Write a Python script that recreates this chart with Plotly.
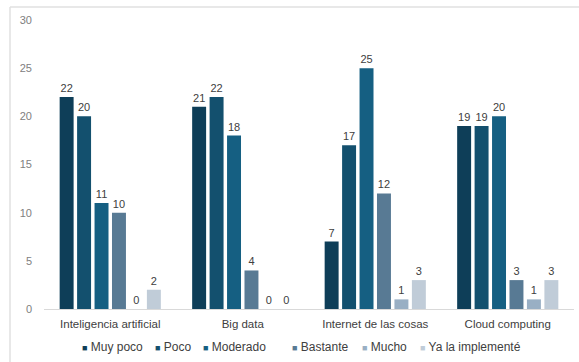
import plotly.graph_objects as go

categories = ["Inteligencia artificial", "Big data", "Internet de las cosas", "Cloud computing"]
series_names = ["Muy poco", "Poco", "Moderado", "Bastante", "Mucho", "Ya la implementé"]
muy_poco = [22, 21, 7, 19]
poco = [20, 22, 17, 19]
moderado = [11, 18, 25, 20]
bastante = [10, 4, 12, 3]
mucho = [0, 0, 1, 1]
ya_implemente = [2, 0, 3, 3]
series_values = [muy_poco, poco, moderado, bastante, mucho, ya_implemente]
colors = ["#0e3e58", "#13506e", "#155f82", "#587a94", "#99afc4", "#c0ccd8"]
y_ticks = [0, 5, 10, 15, 20, 25, 30]
legend_x_px = [80, 153, 201, 290, 360, 418]

FONT = "Liberation Sans, Arial"
W, H = 579, 362
ML, MR, MT, MB = 44, 5, 20, 53
PW, PH = W - ML - MR, H - MT - MB

fig = go.Figure()
for name, vals, col in zip(series_names, series_values, colors):
    fig.add_trace(go.Bar(
        x=categories, y=vals, name=name,
        marker=dict(color=col, line=dict(width=0)),
        text=[str(v) for v in vals], textposition="outside",
        textfont=dict(size=11, color="#404040", family=FONT),
        outsidetextfont=dict(size=11, color="#404040", family=FONT),
        cliponaxis=False, showlegend=False,
    ))

annotations = []
for name, col, px in zip(series_names, colors, legend_x_px):
    annotations.append(dict(
        xref="paper", yref="paper",
        x=(px - ML) / PW, y=(MT + PH - 347) / PH,
        xanchor="left", yanchor="middle", showarrow=False,
        text=f"<span style='color:{col};font-size:9px'>■</span> {name}",
        font=dict(size=12, color="#404040", family=FONT),
    ))

fig.update_layout(
    width=W, height=H,
    margin=dict(l=ML, r=MR, t=MT, b=MB, autoexpand=False),
    paper_bgcolor="white", plot_bgcolor="white",
    barmode="group", bargap=0.21, bargroupgap=0.2,
    font=dict(family=FONT, size=11, color="#404040"),
    showlegend=False,
    annotations=annotations,
    xaxis=dict(showline=True, linecolor="#d9d9d9", linewidth=1, ticks="",
               tickfont=dict(size=11.5, color="#404040"), showgrid=False,
               ticklabelstandoff=4),
    yaxis=dict(range=[0, 30], tickvals=y_ticks, showgrid=False, zeroline=False,
               showline=False, tickfont=dict(size=11, color="#808080"),
               ticklabelstandoff=11),
    shapes=[
        dict(type="line", xref="paper", yref="paper", x0=(10 - ML) / PW, x1=1.02,
             y0=(MT + PH - 7) / PH, y1=(MT + PH - 7) / PH, line=dict(color="#e0e0e0", width=1.5)),
        dict(type="line", xref="paper", yref="paper", x0=(10 - ML) / PW, x1=(10 - ML) / PW,
             y0=-0.2, y1=(MT + PH - 7) / PH, line=dict(color="#e0e0e0", width=1.5)),
    ],
)

fig.write_html("out.html")
